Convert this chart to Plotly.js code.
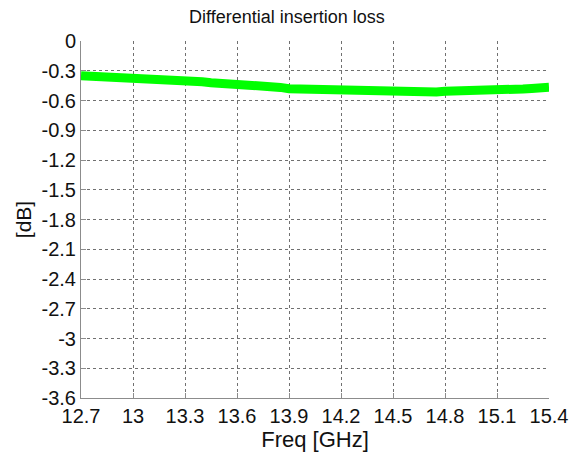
<!DOCTYPE html>
<html>
<head>
<meta charset="utf-8">
<script src="https://cdn.plot.ly/plotly-3.0.1.min.js"></script>
<style>html,body{margin:0;padding:0;background:#fff;}#chart{width:574px;height:455px;}</style>
</head>
<body>
<div id="chart"></div>
<script>
var freqGHz = [12.70, 12.75, 12.80, 12.85, 12.90, 12.95, 13.00, 13.05, 13.10, 13.15, 13.20, 13.25, 13.30, 13.35, 13.40, 13.45, 13.50, 13.55, 13.60, 13.65, 13.70, 13.75, 13.80, 13.85, 13.90, 13.95, 14.00, 14.05, 14.10, 14.15, 14.20, 14.25, 14.30, 14.35, 14.40, 14.45, 14.50, 14.55, 14.60, 14.65, 14.70, 14.75, 14.80, 14.85, 14.90, 14.95, 15.00, 15.05, 15.10, 15.15, 15.20, 15.25, 15.30, 15.35, 15.40];
var lossDB = [-0.350, -0.354, -0.356, -0.362, -0.354, -0.364, -0.366, -0.372, -0.378, -0.370, -0.388, -0.392, -0.398, -0.404, -0.410, -0.420, -0.424, -0.434, -0.444, -0.444, -0.454, -0.458, -0.468, -0.468, -0.482, -0.484, -0.490, -0.494, -0.494, -0.502, -0.504, -0.508, -0.506, -0.512, -0.514, -0.518, -0.522, -0.516, -0.514, -0.518, -0.508, -0.514, -0.506, -0.506, -0.500, -0.502, -0.496, -0.498, -0.490, -0.492, -0.486, -0.484, -0.478, -0.476, -0.466];
var xTicks = [12.7, 13, 13.3, 13.6, 13.9, 14.2, 14.5, 14.8, 15.1, 15.4];
var xTickText = ['12.7', '13', '13.3', '13.6', '13.9', '14.2', '14.5', '14.8', '15.1', '15.4'];
var yTicks = [0, -0.3, -0.6, -0.9, -1.2, -1.5, -1.8, -2.1, -2.4, -2.7, -3.0, -3.3, -3.6];
var yTickText = ['0', '-0.3', '-0.6', '-0.9', '-1.2', '-1.5', '-1.8', '-2.1', '-2.4', '-2.7', '-3', '-3.3', '-3.6'];

var FONT = 'Liberation Sans, Arial, Helvetica, sans-serif';
var trace = {
  x: freqGHz, y: lossDB, type: 'scatter', mode: 'lines',
  line: {color: '#00ff00', width: 9, shape: 'linear'},
  hoverinfo: 'skip'
};
var axisCommon = {
  showgrid: true, gridcolor: '#707070', griddash: 'dot', gridwidth: 1,
  showline: true, linecolor: '#8c8c8c', linewidth: 1,
  ticks: 'inside', ticklen: 5, tickcolor: '#8c8c8c',
  zeroline: false, mirror: false,
  tickfont: {family: FONT, size: 20, color: '#111'},
  tickmode: 'array'
};
var layout = {
  width: 574, height: 455,
  margin: {l: 81, r: 25, t: 41, b: 57},
  paper_bgcolor: '#fff', plot_bgcolor: '#fff',
  showlegend: false,
  title: {text: 'Differential insertion loss', font: {family: FONT, size: 18, color: '#111'},
          xref: 'container', x: 0.5, xanchor: 'center', yref: 'container', y: 1 - 17/455, yanchor: 'middle'},
  xaxis: Object.assign({}, axisCommon, {
    range: [12.7, 15.4], tickvals: xTicks, ticktext: xTickText,
    title: {text: 'Freq [GHz]', font: {family: FONT, size: 22, color: '#111'}, standoff: 0}
  }),
  yaxis: Object.assign({}, axisCommon, {
    range: [-3.6, 0], tickvals: yTicks, ticktext: yTickText,
    title: {text: '[dB]', font: {family: FONT, size: 21, color: '#111'}, standoff: 4}
  })
};
Plotly.newPlot('chart', [trace], layout, {staticPlot: true, displayModeBar: false});
</script>
</body>
</html>
